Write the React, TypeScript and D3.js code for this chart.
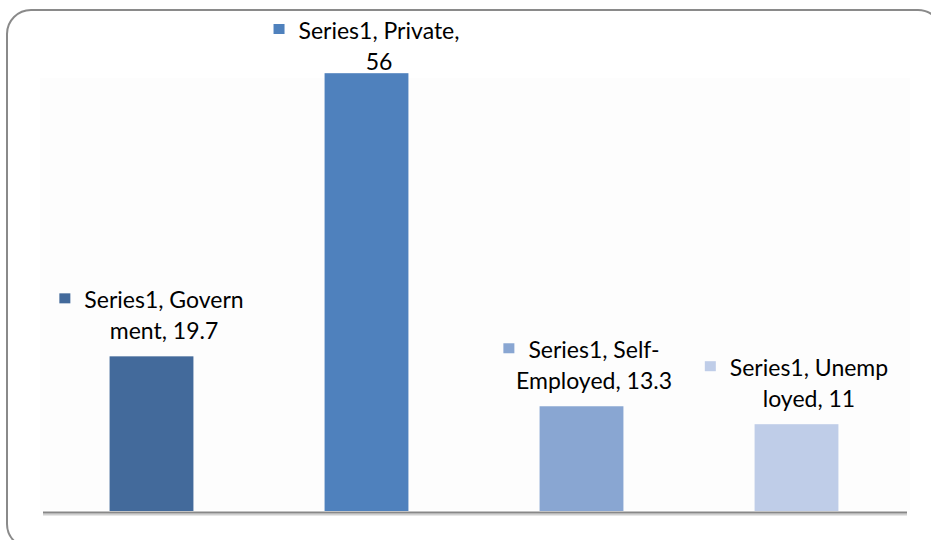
import React, { useEffect, useRef } from "react";
import * as d3 from "d3";

const categories = ["Government", "Private", "Self-Employed", "Unemployed"];
const values = [19.7, 56, 13.3, 11];
const labelLine1 = ["Series1, Govern", "Series1, Private,", "Series1, Self-", "Series1, Unemp"];
const labelLine2 = ["ment, 19.7", "56", "Employed, 13.3", "loyed, 11"];
const colors = ["#436a9b", "#4f81bd", "#89a6d2", "#bfcde8"];

const W = 931;
const H = 540;

export default function App() {
  const ref = useRef<SVGSVGElement | null>(null);

  useEffect(() => {
    const svg = d3.select(ref.current);
    svg.selectAll("*").remove();

    const baseline = 510;
    const x = d3
      .scaleBand<string>()
      .domain(categories)
      .range([44, 904])
      .paddingInner(0.61)
      .paddingOuter(0.305);
    const y = d3.scaleLinear().domain([0, 60]).range([baseline, 42]);

    // frame
    svg
      .append("rect")
      .attr("x", 7)
      .attr("y", 10)
      .attr("width", 935)
      .attr("height", 538)
      .attr("rx", 24)
      .attr("fill", "#ffffff")
      .attr("stroke", "#8a8a8a")
      .attr("stroke-width", 2);

    // plot area
    svg
      .append("rect")
      .attr("x", 40)
      .attr("y", 78)
      .attr("width", 870)
      .attr("height", baseline - 78)
      .attr("fill", "#fdfdfd");

    // bars
    svg
      .selectAll("rect.bar")
      .data(values)
      .enter()
      .append("rect")
      .attr("class", "bar")
      .attr("x", (_d, i) => x(categories[i]) as number)
      .attr("y", (d) => y(d))
      .attr("width", x.bandwidth())
      .attr("height", (d) => baseline - y(d) + 1)
      .attr("fill", (_d, i) => colors[i]);

    // axis line
    svg
      .append("line")
      .attr("x1", 43)
      .attr("x2", 907)
      .attr("y1", baseline + 4.5)
      .attr("y2", baseline + 4.5)
      .attr("stroke", "#d0d0d0")
      .attr("stroke-width", 2);
    svg
      .append("line")
      .attr("x1", 43)
      .attr("x2", 907)
      .attr("y1", baseline + 2.5)
      .attr("y2", baseline + 2.5)
      .attr("stroke", "#888888")
      .attr("stroke-width", 2);

    // labels
    const fontFamily = "Lato, 'Open Sans', sans-serif";
    const fontSize = 23;
    values.forEach((v, i) => {
      const cx = (x(categories[i]) as number) + x.bandwidth() / 2;
      let l2 = y(v) - 17;
      let l1 = l2 - 31;
      if (l1 < 39) {
        l1 = 39;
        l2 = l1 + 31;
      }
      const g = svg.append("g");
      const t1 = g
        .append("text")
        .attr("y", l1)
        .attr("font-family", fontFamily)
        .attr("font-size", fontSize)
        .attr("fill", "#000")
        .attr("text-anchor", "middle")
        .text(labelLine1[i]);
      const t2 = g
        .append("text")
        .attr("y", l2)
        .attr("font-family", fontFamily)
        .attr("font-size", fontSize)
        .attr("fill", "#000")
        .attr("text-anchor", "middle")
        .text(labelLine2[i]);
      const w1 = (t1.node() as SVGTextElement).getComputedTextLength();
      const w2 = (t2.node() as SVGTextElement).getComputedTextLength();
      const tw = Math.max(w1, w2);
      const markerW = 11;
      const gap = 14;
      const blockW = markerW + gap + tw;
      const left = cx - blockW / 2;
      const textCenter = left + markerW + gap + tw / 2;
      t1.attr("x", textCenter);
      t2.attr("x", textCenter);
      g.append("rect")
        .attr("x", textCenter - w1 / 2 - gap - markerW)
        .attr("y", l1 - 15)
        .attr("width", markerW)
        .attr("height", 10)
        .attr("fill", colors[i]);
    });
  }, []);

  return (
    <svg
      ref={ref}
      width={W}
      height={H}
      style={{ position: "absolute", left: 0, top: 0, background: "#fff" }}
    />
  );
}
